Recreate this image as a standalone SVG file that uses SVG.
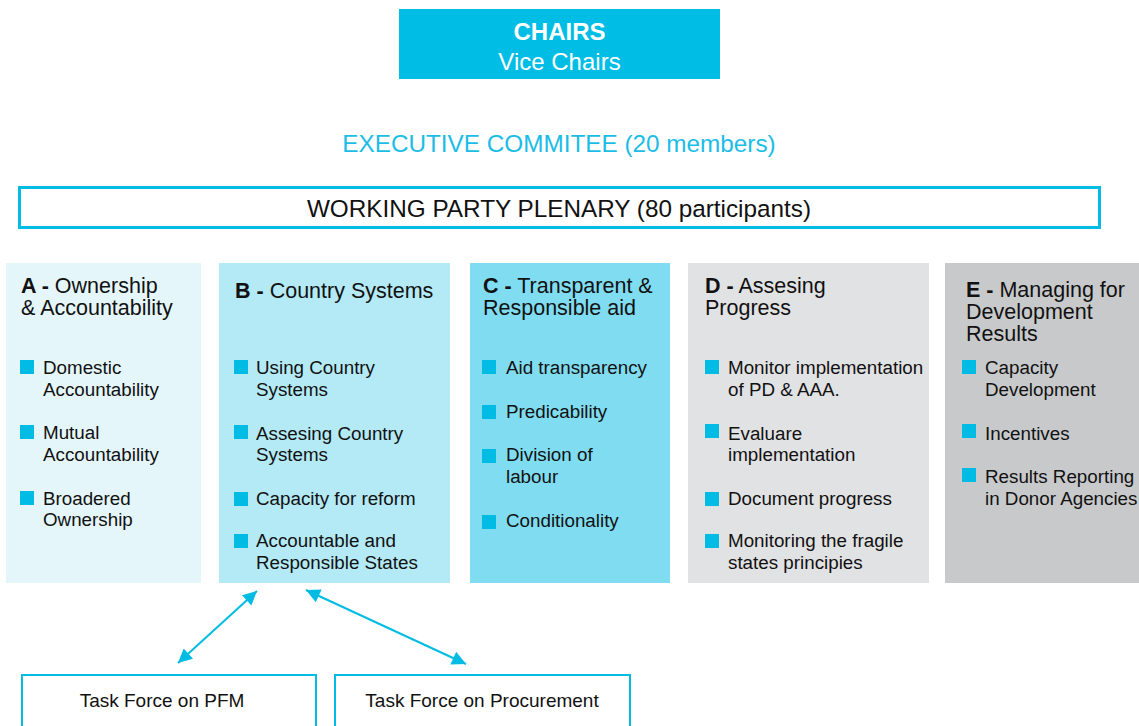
<svg xmlns="http://www.w3.org/2000/svg" width="1139" height="726" viewBox="0 0 1139 726">
<style>
text{font-family:"Liberation Sans",Arial,sans-serif;fill:#111}
.h{font-size:21.5px}
.it{font-size:18.8px}
.b{font-weight:bold}
.sq{fill:#00BCE4}
.tf{font-size:19px;text-anchor:middle}
.conn{stroke:#00BCE4;stroke-width:2;fill:none}
</style>
<defs>
<marker id="ah" viewBox="0 0 10 10" refX="10" refY="5" markerWidth="8" markerHeight="7" markerUnits="strokeWidth" orient="auto-start-reverse">
<path d="M0,0 L10,5 L0,10 z" fill="#00BCE4"/>
</marker>
</defs>
<rect width="1139" height="726" fill="#fff"/>

<g id="chairs">
<rect x="399" y="9" width="321" height="70" fill="#00BDE5"/>
<text x="559.5" y="40" text-anchor="middle" style="font-size:24px;font-weight:bold;fill:#fff">CHAIRS</text>
<text x="559.5" y="70" text-anchor="middle" style="font-size:24px;fill:#fff">Vice Chairs</text>
</g>

<g id="executive">
<text x="559" y="152" text-anchor="middle" style="font-size:24.3px;fill:#1BBDE6">EXECUTIVE COMMITEE (20 members)</text>
</g>

<g id="plenary">
<rect x="19.5" y="187.5" width="1080" height="40" fill="#fff" stroke="#00BCE4" stroke-width="3"/>
<text x="559" y="217" text-anchor="middle" style="font-size:24.3px">WORKING PARTY PLENARY (80 participants)</text>
</g>

<g id="colA">
<rect x="6" y="263" width="195" height="320" fill="#E5F6FB"/>
<text class="h" x="21" y="293"><tspan class="b">A -</tspan> Ownership</text>
<text class="h" x="21" y="315">&amp; Accountability</text>
<rect class="sq" x="20" y="360" width="14" height="14"/>
<text class="it" x="43" y="374">Domestic</text>
<text class="it" x="43" y="396">Accountability</text>
<rect class="sq" x="20" y="425" width="14" height="14"/>
<text class="it" x="43" y="439">Mutual</text>
<text class="it" x="43" y="461">Accountability</text>
<rect class="sq" x="20" y="491" width="14" height="14"/>
<text class="it" x="43" y="505">Broadered</text>
<text class="it" x="43" y="526">Ownership</text>
</g>

<g id="colB">
<rect x="219" y="263" width="231" height="320" fill="#B3EAF6"/>
<text class="h" x="235" y="298"><tspan class="b">B -</tspan> Country Systems</text>
<rect class="sq" x="234" y="360" width="14" height="14"/>
<text class="it" x="256" y="374">Using Country</text>
<text class="it" x="256" y="396">Systems</text>
<rect class="sq" x="234" y="425" width="14" height="14"/>
<text class="it" x="256" y="440">Assesing Country</text>
<text class="it" x="256" y="461">Systems</text>
<rect class="sq" x="234" y="492" width="14" height="14"/>
<text class="it" x="256" y="505">Capacity for reform</text>
<rect class="sq" x="234" y="534" width="14" height="14"/>
<text class="it" x="256" y="547">Accountable and</text>
<text class="it" x="256" y="569">Responsible States</text>
</g>

<g id="colC">
<rect x="470" y="263" width="200" height="320" fill="#80DDF1"/>
<text class="h" x="483" y="293"><tspan class="b">C -</tspan> Transparent &amp;</text>
<text class="h" x="483" y="315">Responsible aid</text>
<rect class="sq" x="482" y="360" width="14" height="14"/>
<text class="it" x="506" y="374">Aid transparency</text>
<rect class="sq" x="482" y="405" width="14" height="14"/>
<text class="it" x="506" y="418">Predicability</text>
<rect class="sq" x="482" y="449" width="14" height="14"/>
<text class="it" x="506" y="461">Division of</text>
<text class="it" x="506" y="483">labour</text>
<rect class="sq" x="482" y="515" width="14" height="14"/>
<text class="it" x="506" y="527">Conditionality</text>
</g>

<g id="colD">
<rect x="688" y="263" width="241" height="320" fill="#E1E2E4"/>
<text class="h" x="705" y="293"><tspan class="b">D -</tspan> Assesing</text>
<text class="h" x="705" y="315">Progress</text>
<rect class="sq" x="705" y="360" width="14" height="14"/>
<text class="it" x="728" y="374">Monitor implementation</text>
<text class="it" x="728" y="396">of PD &amp; AAA.</text>
<rect class="sq" x="705" y="424" width="14" height="14"/>
<text class="it" x="728" y="440">Evaluare</text>
<text class="it" x="728" y="461">implementation</text>
<rect class="sq" x="705" y="492" width="14" height="14"/>
<text class="it" x="728" y="505">Document progress</text>
<rect class="sq" x="705" y="534" width="14" height="14"/>
<text class="it" x="728" y="547">Monitoring the fragile</text>
<text class="it" x="728" y="569">states principies</text>
</g>

<g id="colE">
<rect x="945" y="263" width="194" height="320" fill="#C8C9CB"/>
<text class="h" x="966" y="297"><tspan class="b">E -</tspan> Managing for</text>
<text class="h" x="966" y="319">Development</text>
<text class="h" x="966" y="341">Results</text>
<rect class="sq" x="962" y="360" width="14" height="14"/>
<text class="it" x="985" y="374">Capacity</text>
<text class="it" x="985" y="396">Development</text>
<rect class="sq" x="962" y="424" width="14" height="14"/>
<text class="it" x="985" y="440">Incentives</text>
<rect class="sq" x="962" y="468" width="14" height="14"/>
<text class="it" x="985" y="483">Results Reporting</text>
<text class="it" x="985" y="505">in Donor Agencies</text>
</g>

<g id="connectors">
<line class="conn" x1="257" y1="591" x2="178" y2="663" marker-start="url(#ah)" marker-end="url(#ah)"/>
<line class="conn" x1="306" y1="590" x2="466" y2="664" marker-start="url(#ah)" marker-end="url(#ah)"/>
</g>

<g id="tf-pfm">
<rect x="22" y="675" width="294" height="70" fill="#fff" stroke="#00BCE4" stroke-width="2"/>
<text class="tf" x="162" y="707">Task Force on PFM</text>
</g>

<g id="tf-proc">
<rect x="335" y="675" width="295" height="70" fill="#fff" stroke="#00BCE4" stroke-width="2"/>
<text class="tf" x="482" y="707">Task Force on Procurement</text>
</g>
</svg>
